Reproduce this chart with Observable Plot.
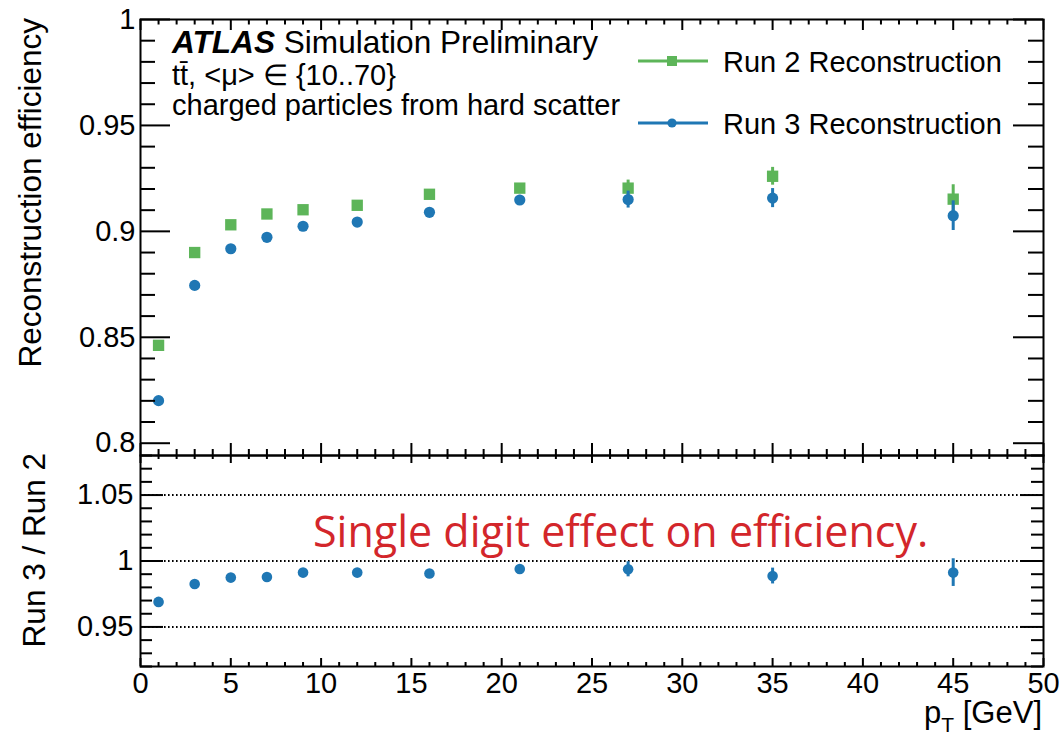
<!DOCTYPE html>
<html>
<head>
<meta charset="utf-8">
<script src="https://cdn.jsdelivr.net/npm/d3@7"></script>
<script src="https://cdn.jsdelivr.net/npm/@observablehq/plot@0.6"></script>
<style>
  body { margin: 0; background: #fff; }
  #wrap { position: relative; width: 1059px; height: 736px; overflow: hidden; background: #fff; }
  #wrap svg { position: absolute; left: 0; overflow: visible; max-width: none; }
</style>
</head>
<body>
<div id="wrap"></div>
<script>
// ---------------- data ----------------
const pt = [1, 3, 5, 7, 9, 12, 16, 21, 27, 35, 45];
const effRun2 = [0.8462, 0.8900, 0.9031, 0.9082, 0.9102, 0.9123, 0.9175, 0.9204, 0.9204, 0.9260, 0.9152];
const errRun2 = [0.0005, 0.0005, 0.0006, 0.0007, 0.0008, 0.0009, 0.0012, 0.0020, 0.0038, 0.0042, 0.0068];
const effRun3 = [0.8201, 0.8745, 0.8918, 0.8972, 0.9024, 0.9044, 0.9090, 0.9148, 0.9150, 0.9157, 0.9074];
const errRun3 = [0.0005, 0.0006, 0.0007, 0.0008, 0.0009, 0.0010, 0.0013, 0.0022, 0.0040, 0.0045, 0.0070];
const ratio    = [0.9690, 0.9826, 0.9874, 0.9879, 0.9912, 0.9912, 0.9905, 0.9939, 0.9937, 0.9886, 0.9912];
const errRatio = [0.0008, 0.0008, 0.0009, 0.0010, 0.0012, 0.0014, 0.0018, 0.0030, 0.0057, 0.0060, 0.0105];

const seriesNames = ["Run 2 Reconstruction", "Run 3 Reconstruction"];
const seriesColors = ["#5db559", "#1f77b4"];

const xDomain = [0, 50];
const xTicks = [0, 5, 10, 15, 20, 25, 30, 35, 40, 45, 50];
const xTickLabels = ["0", "5", "10", "15", "20", "25", "30", "35", "40", "45", "50"];
const effDomain = [0.7942, 1];
const effTicks = [0.8, 0.85, 0.9, 0.95, 1];
const effTickLabels = ["0.8", "0.85", "0.9", "0.95", "1"];
const ratioDomain = [0.92, 1.08];
const ratioTicks = [0.95, 1, 1.05];
const ratioTickLabels = ["0.95", "1", "1.05"];

const yTitleTop = "Reconstruction efficiency";
const yTitleBottom = "Run 3 / Run 2";
const atlasLines = ["ATLAS", " Simulation Preliminary", "t\u0074\u0304, <\u03bc> \u2208 {10..70}", "charged particles from hard scatter"];
const annotation = "Single digit effect on efficiency.";
const annotationColor = "#d3262b";

// ---------------- layout ----------------
const FONT = "'Liberation Sans', Arial, Helvetica, sans-serif";
const W = 1059, mL = 140, mR = 16;
const fw = W - mL - mR;
const upH = 456, upMT = 19, upMB = 1;
const upFH = upH - upMT - upMB;
const loTop = 445, loH = 736 - 445, loMT = 10, loMB = 70;
const loFH = loH - loMT - loMB;

const xMinor = d3.range(0, 51).filter(v => v % 5 !== 0);
const effMinor = d3.range(80, 101).filter(v => v % 5 !== 0).map(v => v / 100);
const ratioMinor = d3.range(92, 109).filter(v => v % 5 !== 0).map(v => v / 100);

const run2 = pt.map((x, i) => ({pt: x, eff: effRun2[i], err: errRun2[i], series: seriesNames[0]}));
const run3 = pt.map((x, i) => ({pt: x, eff: effRun3[i], err: errRun3[i], series: seriesNames[1]}));
const ratioRows = pt.map((x, i) => ({pt: x, r: ratio[i], err: errRatio[i], series: seriesNames[1]}));

function frameTicks(fwid, fhei, o) {
  const sw = 2, st = "#000";
  return [
    Plot.tickY(o.yMajor, {y: d => d, insetRight: fwid - o.yMaj, stroke: st, strokeWidth: sw}),
    Plot.tickY(o.yMinor, {y: d => d, insetRight: fwid - o.yMin, stroke: st, strokeWidth: sw}),
    Plot.tickY(o.yMajor, {y: d => d, insetLeft: fwid - o.yMaj, stroke: st, strokeWidth: sw}),
    Plot.tickY(o.yMinor, {y: d => d, insetLeft: fwid - o.yMin, stroke: st, strokeWidth: sw}),
    Plot.tickX(xTicks, {x: d => d, insetTop: fhei - o.xMajB, stroke: st, strokeWidth: sw}),
    Plot.tickX(xMinor, {x: d => d, insetTop: fhei - o.xMinB, stroke: st, strokeWidth: sw}),
    Plot.tickX(xTicks, {x: d => d, insetBottom: fhei - o.xMajT, stroke: st, strokeWidth: sw}),
    Plot.tickX(xMinor, {x: d => d, insetBottom: fhei - o.xMinT, stroke: st, strokeWidth: sw})
  ];
}

const upper = Plot.plot({
  width: W, height: upH,
  marginTop: upMT, marginBottom: upMB, marginLeft: mL, marginRight: mR,
  style: {fontFamily: FONT, fontSize: "29px", color: "#000", background: "transparent", overflow: "visible"},
  x: {domain: xDomain, axis: null},
  y: {domain: effDomain, axis: null},
  color: {domain: seriesNames, range: seriesColors},
  marks: [
    Plot.ruleX(run2, {x: "pt", y1: d => d.eff - d.err, y2: d => d.eff + d.err, stroke: "series", strokeWidth: 3}),
    Plot.dot(run2, {x: "pt", y: "eff", fill: "series", symbol: "square", r: 6.4}),
    Plot.ruleX(run3, {x: "pt", y1: d => d.eff - d.err, y2: d => d.eff + d.err, stroke: "series", strokeWidth: 3}),
    Plot.dot(run3, {x: "pt", y: "eff", fill: "series", symbol: "circle", r: 5.6}),
    ...frameTicks(fw, upFH, {yMajor: effTicks, yMinor: effMinor, yMaj: 30, yMin: 15, xMajB: 12, xMinB: 6, xMajT: 11, xMinT: 5.5}),
    Plot.axisY(effTicks, {anchor: "left", tickSize: 0, tickPadding: 5, label: null, fontSize: 29,
      tickFormat: d => effTickLabels[effTicks.indexOf(d)]}),
    Plot.frame({stroke: "#000", strokeWidth: 2})
  ]
});

const lower = Plot.plot({
  width: W, height: loH,
  marginTop: loMT, marginBottom: loMB, marginLeft: mL, marginRight: mR,
  style: {fontFamily: FONT, fontSize: "29px", color: "#000", background: "transparent", overflow: "visible"},
  x: {domain: xDomain, axis: null},
  y: {domain: ratioDomain, axis: null},
  color: {domain: seriesNames, range: seriesColors},
  marks: [
    Plot.ruleY(ratioTicks, {y: d => d, stroke: "#000", strokeWidth: 2, strokeDasharray: "1.6,2.4"}),
    Plot.ruleX(ratioRows, {x: "pt", y1: d => d.r - d.err, y2: d => d.r + d.err, stroke: "series", strokeWidth: 3}),
    Plot.dot(ratioRows, {x: "pt", y: "r", fill: "series", symbol: "circle", r: 5.3}),
    ...frameTicks(fw, loFH, {yMajor: ratioTicks, yMinor: ratioMinor, yMaj: 23, yMin: 12, xMajB: 8, xMinB: 4, xMajT: 8, xMinT: 4}),
    Plot.axisY(ratioTicks, {anchor: "left", tickSize: 0, tickPadding: 7, label: null, fontSize: 29,
      tickFormat: d => ratioTickLabels[ratioTicks.indexOf(d)]}),
    Plot.axisX(xTicks, {anchor: "bottom", tickSize: 0, tickPadding: 6, label: null, fontSize: 29,
      tickFormat: d => xTickLabels[xTicks.indexOf(d)]}),
    Plot.frame({stroke: "#000", strokeWidth: 2})
  ]
});

const wrap = document.getElementById("wrap");
upper.style.top = "0px";
lower.style.top = loTop + "px";
wrap.appendChild(upper);
wrap.appendChild(lower);

// ---------------- overlay texts & legend ----------------
const ov = d3.select(wrap).append("svg")
  .attr("width", W).attr("height", 736)
  .style("top", "0px").style("left", "0px")
  .attr("font-family", FONT).attr("fill", "#000");

// axis titles
ov.append("text").attr("transform", "translate(41,18) rotate(-90)")
  .attr("text-anchor", "end").attr("font-size", 31.5).text(yTitleTop);
ov.append("text").attr("transform", "translate(45,453) rotate(-90)")
  .attr("text-anchor", "end").attr("font-size", 31.5).text(yTitleBottom);
const xt = ov.append("text").attr("x", 1042).attr("y", 723).attr("text-anchor", "end").attr("font-size", 31);
xt.append("tspan").text("p");
xt.append("tspan").attr("font-size", 21).attr("dy", 9).text("T");
xt.append("tspan").attr("dy", -9).text(" [GeV]");

// ATLAS label
const l1 = ov.append("text").attr("x", 172).attr("y", 53).attr("font-size", 31.6);
l1.append("tspan").attr("font-weight", "bold").attr("font-style", "italic").text(atlasLines[0]);
l1.append("tspan").text(atlasLines[1]);
ov.append("text").attr("x", 172).attr("y", 85).attr("font-size", 29).text(atlasLines[2]);
ov.append("text").attr("x", 172).attr("y", 115).attr("font-size", 29).text(atlasLines[3]);

// legend
const legendY = [61, 123];
seriesNames.forEach((name, i) => {
  const g = ov.append("g");
  g.append("line").attr("x1", 638).attr("x2", 708).attr("y1", legendY[i]).attr("y2", legendY[i])
    .attr("stroke", seriesColors[i]).attr("stroke-width", 3);
  if (i === 0) {
    g.append("rect").attr("x", 672 - 5).attr("y", legendY[i] - 5).attr("width", 10).attr("height", 10).attr("fill", seriesColors[i]);
  } else {
    g.append("circle").attr("cx", 672).attr("cy", legendY[i]).attr("r", 4.6).attr("fill", seriesColors[i]);
  }
  g.append("text").attr("x", 723).attr("y", legendY[i] + 10.5).attr("font-size", 29).text(name);
});

// annotation
ov.append("text").attr("x", 313).attr("y", 547)
  .attr("font-family", "'Open Sans', 'Noto Sans', sans-serif").attr("font-size", 43)
  .attr("fill", annotationColor).text(annotation);
</script>
</body>
</html>
